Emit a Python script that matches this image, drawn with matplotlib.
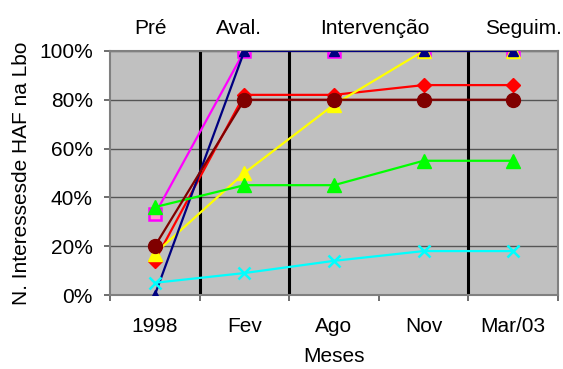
import matplotlib
matplotlib.use("Agg")
import matplotlib.pyplot as plt
import numpy as np

plt.rcParams['font.family'] = ['Liberation Sans', 'DejaVu Sans']

categories = ["1998", "Fev", "Ago", "Nov", "Mar/03"]
phases = ["Pré", "Aval.", "Intervenção", "Seguim."]
phase_pos = [-0.05, 0.94, 2.46, 4.11]

magenta = [33, 100, 100, 100, 100]
red = [14, 82, 82, 86, 86]
yellow = [17, 50, 78, 100, 100]
navy = [0, 100, 100, 100, 100]
cyan = [5, 9, 14, 18, 18]
green = [36, 45, 45, 55, 55]
darkred = [20, 80, 80, 80, 80]

FS = 15

fig = plt.figure(figsize=(5.63, 3.69), dpi=100)
ax = fig.add_axes([0.1954, 0.2005, 0.7956, 0.6615])
ax.set_facecolor("#C0C0C0")

x = np.arange(len(categories))
lw = 1.6
ax.plot(x, magenta, color="#FF00FF", lw=lw, marker="s", ms=8.5, mfc="#FF99CC", mec="#FF00FF", mew=1.8, zorder=3)
ax.plot(x, red, color="#FF0000", lw=lw, marker="D", ms=7.5, mfc="#FF0000", mec="#FF0000", zorder=4)
ax.plot(x, yellow, color="#FFFF00", lw=lw, marker="^", ms=10, mfc="#FFFF00", mec="#FFFF00", zorder=5)
ax.plot(x, navy, color="#000080", lw=lw, marker="^", ms=7, mfc="#000080", mec="#000080", zorder=6)
ax.plot(x, cyan, color="#00FFFF", lw=lw, marker="x", ms=9, mew=1.8, zorder=7)
ax.plot(x, green, color="#00FF00", lw=lw, marker="^", ms=10.5, mfc="#00FF00", mec="#00FF00", zorder=8)
ax.plot(x, darkred, color="#800000", lw=lw, marker="o", ms=10, mfc="#800000", mec="#800000", zorder=9)

ax.set_xlim(-0.5, len(categories) - 0.5)
ax.set_ylim(0, 100)
ax.set_yticks(np.arange(0, 101, 20))
ax.set_yticklabels([f"{v}%" for v in range(0, 101, 20)], fontsize=FS)
ax.yaxis.grid(True, color="#555555", lw=1)
ax.set_axisbelow(True)

# category labels sit between the boundary ticks
ax.set_xticks(np.arange(-0.5, len(categories), 1.0))
ax.set_xticklabels([])
ax.set_xticks(x, minor=True)
ax.set_xticklabels(categories, minor=True, fontsize=FS)
ax.tick_params(axis="x", which="minor", length=0, pad=16)
ax.tick_params(axis="x", which="major", length=4.3, width=1.2, color="#555555")
ax.tick_params(axis="y", length=4.3, width=1.2, color="#555555", pad=8)

# phase separators
for b in [0.5, 1.5, 3.5]:
    ax.axvline(b, color="black", lw=2.2, zorder=2)

for s in ax.spines.values():
    s.set_color("#808080")
    s.set_linewidth(1.5)

# phase labels above the plot
for p, t in zip(phase_pos, phases):
    ax.text(p, 1.07, t, transform=ax.get_xaxis_transform(), ha="center", va="baseline", fontsize=FS)

ax.set_xlabel("Meses", fontsize=FS, labelpad=8)
ax.set_ylabel("N. Interessesde HAF na Lbo", fontsize=FS, labelpad=6)

fig.savefig("out.png", dpi=100)
